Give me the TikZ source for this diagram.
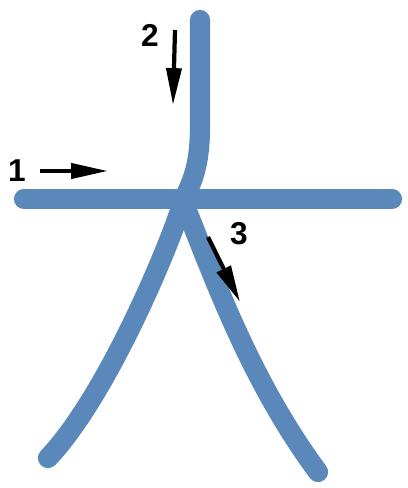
\documentclass[tikz,border=0pt]{standalone}
\usepackage{fontspec}
\setmainfont{Liberation Sans}
\usetikzlibrary{arrows.meta}
\definecolor{inkblue}{RGB}{90,136,186}
\tikzset{
 brush/.style={draw=inkblue,line width=11.5pt,line cap=round,line join=round},
 order/.style={-{Triangle[length=21pt,width=8.5pt]},line width=2.4pt},
 num/.style={font=\bfseries\fontsize{18}{20}\selectfont,inner sep=0pt}
}
\begin{document}
\begin{tikzpicture}[x=0.02cm,y=-0.02cm]
\useasboundingbox[fill=white] (0,0) rectangle (408,488);
\coordinate (cross) at (183,201);
\draw[brush] (24,199) -- (392,199);
\draw[brush] (200,20) -- (200,125) .. controls (200,165) and (193,180) .. (cross)
 .. controls (172,240) and (108,395) .. (48,458);
\draw[brush] (cross) .. controls (215,280) and (250,380) .. (318,472);
\node[num] (n1) at (17,171) {1};
\node[num] (n2) at (150,35) {2};
\node[num] (n3) at (239,234) {3};
\coordinate (a1) at (40,171);
\coordinate (b1) at (108,171);
\coordinate (a2) at (175,30);
\coordinate (b2) at (173,105);
\coordinate (a3) at (208,237);
\coordinate (b3) at (240,302);
\foreach \i in {1,2,3} {
 \draw[order] (a\i) -- (b\i);
}
\end{tikzpicture}
\end{document}
